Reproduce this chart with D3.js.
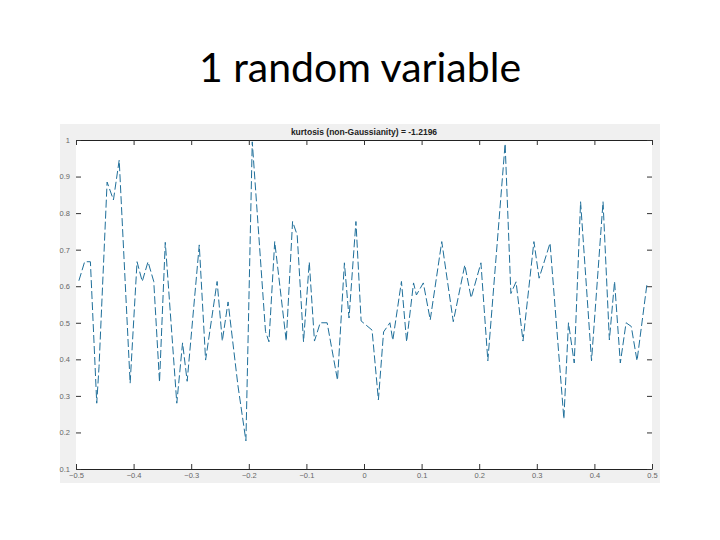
<!DOCTYPE html>
<html>
<head>
<meta charset="utf-8">
<script src="https://cdn.jsdelivr.net/npm/d3@7"></script>
<style>
  html, body { margin: 0; padding: 0; background: #fff; }
  svg { display: block; }
</style>
</head>
<body>
<svg id="chart" width="720" height="540"></svg>
<script>
const slideTitle = "1 random variable";
const plotTitle = "kurtosis (non-Gaussianity) = -1.2196";
const xTicks = [-0.5, -0.4, -0.3, -0.2, -0.1, 0, 0.1, 0.2, 0.3, 0.4, 0.5];
const yTicks = [0.1, 0.2, 0.3, 0.4, 0.5, 0.6, 0.7, 0.8, 0.9, 1];
const xValues = [-0.495, -0.485, -0.475, -0.464, -0.460, -0.446, -0.435, -0.425, -0.406, -0.394,
  -0.385, -0.375, -0.365, -0.355, -0.345, -0.325, -0.315, -0.307, -0.286, -0.275,
  -0.255, -0.246, -0.236, -0.219, -0.205, -0.194, -0.171, -0.165, -0.155, -0.135,
  -0.124, -0.116, -0.105, -0.095, -0.086, -0.076, -0.064, -0.046, -0.034, -0.026,
  -0.014, -0.005, 0.014, 0.025, 0.034, 0.045, 0.050, 0.065, 0.074, 0.086,
  0.091, 0.103, 0.115, 0.135, 0.155, 0.175, 0.186, 0.203, 0.215, 0.245,
  0.255, 0.264, 0.276, 0.295, 0.304, 0.323, 0.347, 0.355, 0.365, 0.376,
  0.395, 0.415, 0.426, 0.435, 0.445, 0.455, 0.464, 0.474, 0.491];
const yValues = [0.615, 0.667, 0.667, 0.280, 0.380, 0.885, 0.836, 0.945, 0.335, 0.667,
  0.613, 0.667, 0.613, 0.338, 0.720, 0.280, 0.445, 0.340, 0.713, 0.398,
  0.613, 0.450, 0.557, 0.330, 0.177, 0.995, 0.476, 0.448, 0.722, 0.450,
  0.777, 0.740, 0.448, 0.666, 0.450, 0.500, 0.500, 0.343, 0.664, 0.513,
  0.777, 0.505, 0.480, 0.289, 0.475, 0.500, 0.452, 0.613, 0.448, 0.609,
  0.576, 0.609, 0.508, 0.722, 0.503, 0.658, 0.568, 0.664, 0.396, 0.990,
  0.580, 0.612, 0.450, 0.722, 0.622, 0.718, 0.237, 0.500, 0.390, 0.831,
  0.396, 0.831, 0.453, 0.613, 0.390, 0.500, 0.490, 0.396, 0.603];

const data = xValues.map((x, i) => ({ x, y: yValues[i] }));

const svg = d3.select("#chart");

// slide title
svg.append("text")
  .attr("x", 360).attr("y", 82)
  .attr("text-anchor", "middle")
  .attr("font-family", "Lato, 'Open Sans', sans-serif")
  .attr("font-size", 41)
  .attr("fill", "#000")
  .text(slideTitle);

// figure background (MATLAB gray)
const fig = { left: 60, top: 124, right: 660, bottom: 483 };
svg.append("rect")
  .attr("x", fig.left).attr("y", fig.top)
  .attr("width", fig.right - fig.left).attr("height", fig.bottom - fig.top)
  .attr("fill", "#f0f0f0");

const ax = { left: 76, right: 652, top: 140, bottom: 469 };
svg.append("rect")
  .attr("x", ax.left).attr("y", ax.top)
  .attr("width", ax.right - ax.left).attr("height", ax.bottom - ax.top)
  .attr("fill", "#fff");

const x = d3.scaleLinear().domain([-0.5, 0.5]).range([ax.left, ax.right]);
const y = d3.scaleLinear().domain([0.1, 1]).range([ax.bottom, ax.top]);

const fmt = d => (Math.abs(d) < 1e-9 ? "0" : d3.format("")(+d.toFixed(1)));

const gx = svg.append("g").attr("transform", `translate(0,${ax.bottom})`)
  .call(d3.axisBottom(x).tickValues(xTicks).tickSizeInner(-5).tickSizeOuter(0).tickPadding(4).tickFormat(fmt));
const gxt = svg.append("g").attr("transform", `translate(0,${ax.top})`)
  .call(d3.axisTop(x).tickValues(xTicks).tickSizeInner(-5).tickSizeOuter(0).tickFormat(""));
const gy = svg.append("g").attr("transform", `translate(${ax.left},0)`)
  .call(d3.axisLeft(y).tickValues(yTicks).tickSizeInner(-5).tickSizeOuter(0).tickPadding(6).tickFormat(fmt));
const gyr = svg.append("g").attr("transform", `translate(${ax.right},0)`)
  .call(d3.axisRight(y).tickValues(yTicks).tickSizeInner(-5).tickSizeOuter(0).tickFormat(""));

[gx, gxt, gy, gyr].forEach(g => {
  g.selectAll("text")
    .attr("font-family", "'Liberation Sans', Arial, sans-serif")
    .attr("font-size", 7.5)
    .attr("fill", "#666");
  g.selectAll(".tick line").attr("stroke", "#333").attr("stroke-width", 1);
});
gy.select(".domain").remove();
gyr.select(".domain").remove();
gx.select(".domain").attr("stroke", "#222").attr("stroke-width", 1.2);
gxt.select(".domain").attr("stroke", "#222").attr("stroke-width", 1.2);

svg.append("text")
  .attr("x", (ax.left + ax.right) / 2).attr("y", 135)
  .attr("text-anchor", "middle")
  .attr("font-family", "'Liberation Sans', Arial, sans-serif")
  .attr("font-size", 8.5)
  .attr("font-weight", "bold")
  .attr("fill", "#222")
  .text(plotTitle);

const line = d3.line().x(d => x(d.x)).y(d => y(d.y));
svg.append("path")
  .datum(data)
  .attr("d", line)
  .attr("fill", "none")
  .attr("stroke", "#1f6f9a")
  .attr("stroke-width", 1)
  .attr("stroke-dasharray", "8,3");
</script>
</body>
</html>
